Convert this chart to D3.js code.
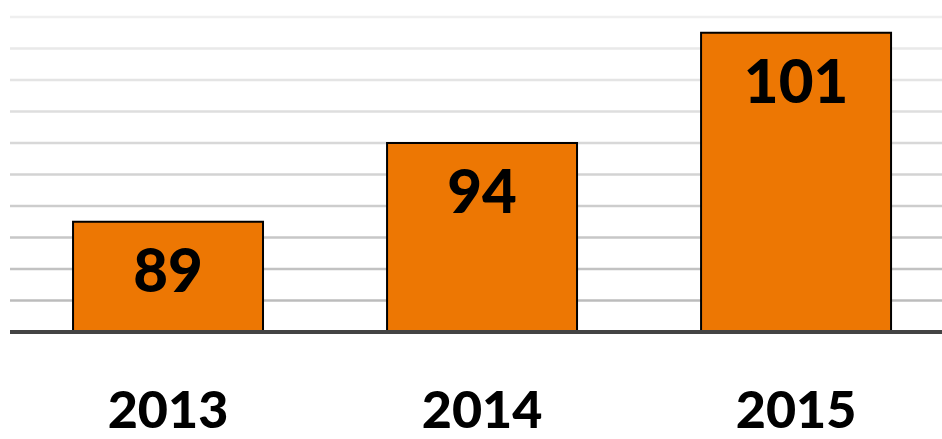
<!DOCTYPE html>
<html>
<head>
<meta charset="utf-8">
<script src="https://cdn.jsdelivr.net/npm/d3@7"></script>
<style>
  body { margin: 0; background: #fff; }
  text { font-family: Lato, "DejaVu Sans", sans-serif; font-weight: 900; fill: #000; }
</style>
</head>
<body>
<div id="chart"></div>
<script>
const years = ['2013', '2014', '2015'];
const values = [89, 94, 101];
const gridTicks = [84, 86, 88, 90, 92, 94, 96, 98, 100, 102];

const width = 942, height = 439;
const margin = {top: 17, right: 0, bottom: 107, left: 10};

const svg = d3.select('#chart').append('svg')
    .attr('width', width)
    .attr('height', height);

const x = d3.scaleBand()
    .domain(years)
    .range([margin.left, width - margin.right])
    .paddingInner(0.395)
    .paddingOuter(0.1815)
    .align(0.553);

const y = d3.scaleLinear()
    .domain([82, 102])
    .range([height - margin.bottom, margin.top]);

// gridlines get darker towards the bottom
const gridColor = d3.scaleLinear()
    .domain([84, 102])
    .range(['#bcbcbc', '#efefef']);

svg.append('g')
  .selectAll('line')
  .data(gridTicks)
  .join('line')
    .attr('x1', margin.left)
    .attr('x2', width)
    .attr('y1', d => y(d))
    .attr('y2', d => y(d))
    .attr('stroke', d => gridColor(d))
    .attr('stroke-width', 2.5);

const bars = svg.append('g')
  .selectAll('g')
  .data(years.map((yr, i) => ({year: yr, value: values[i]})))
  .join('g');

bars.append('rect')
    .attr('x', d => x(d.year))
    .attr('y', d => y(d.value))
    .attr('width', x.bandwidth())
    .attr('height', d => y(82) - y(d.value))
    .attr('fill', '#ed7703')
    .attr('stroke', '#000')
    .attr('stroke-width', 2);

bars.append('text')
    .attr('x', d => x(d.year) + x.bandwidth() / 2)
    .attr('y', d => y(d.value) + 70)
    .attr('text-anchor', 'middle')
    .attr('font-size', 60)
    .text(d => d.value);

// baseline
svg.append('line')
    .attr('x1', margin.left)
    .attr('x2', width)
    .attr('y1', y(82))
    .attr('y2', y(82))
    .attr('stroke', '#444')
    .attr('stroke-width', 4);

const xAxis = d3.axisBottom(x).tickSize(0).tickPadding(0);
svg.append('g')
    .attr('transform', `translate(0,${height - 11})`)
    .call(xAxis)
    .call(g => g.select('.domain').remove())
    .call(g => g.selectAll('text')
        .attr('dy', 0)
        .attr('font-size', 52)
        .style('font-family', 'Lato, "DejaVu Sans", sans-serif')
        .style('font-weight', 900)
        .attr('fill', '#000'));
</script>
</body>
</html>
